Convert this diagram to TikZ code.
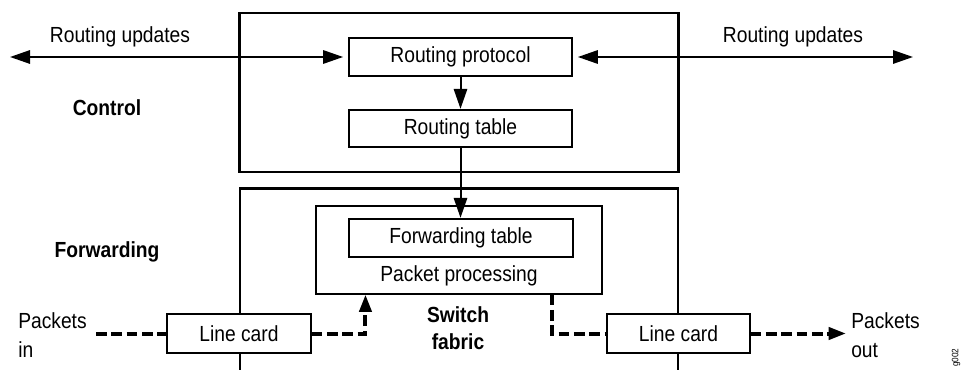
\documentclass[tikz,border=0pt]{standalone}
\usepackage{fontspec}
\setmainfont[FakeStretch=0.88]{Liberation Sans}
\usetikzlibrary{arrows.meta}
\newcommand{\lblfont}{\fontsize{16.4}{19}\selectfont}
\tikzset{
  lbl/.style={font=\lblfont, inner sep=0pt},
  blbl/.style={font=\lblfont\bfseries, inner sep=0pt},
  thinbox/.style={draw, line width=0.8pt, fill=white, inner sep=0pt, font=\lblfont},
  thickbox/.style={draw, line width=1.7pt, fill=white, inner sep=0pt, font=\lblfont},
  plane/.style={draw, line width=1.9pt, inner sep=0pt},
  arr/.style={line width=1.5pt, -{Triangle[length=15pt,width=10pt]}},
  darr/.style={line width=1.5pt, {Triangle[length=15pt,width=10pt]}-{Triangle[length=15pt,width=10pt]}},
  pkt/.style={line width=3pt, dash pattern=on 8pt off 3.5pt},
  pktarr/.style={pkt, -{Triangle[length=13pt,width=9pt]}}
}
\begin{document}
\begin{tikzpicture}[x=0.75pt,y=-0.75pt]
\clip (0,0) rectangle (963,370);
\useasboundingbox (0,0) rectangle (963,370);
% planes
\node[plane, minimum width=329pt, minimum height=119.25pt] (ctrl) at (459,92.5) {};
\node[plane, minimum width=328.5pt, minimum height=152pt] (fwd) at (459,290) {};
% control boxes
\node[thinbox, minimum width=167.25pt, minimum height=28.5pt] (proto) at (460.5,57) {Routing protocol};
\node[thickbox, minimum width=167.25pt, minimum height=27.75pt] (rtable) at (460.5,128.5) {Routing table};
% forwarding
\node[thinbox, minimum width=214.5pt, minimum height=66pt] (pp) at (459,250) {};
\node[lbl] (pptext) at (459,276) {Packet processing};
\node[thickbox, minimum width=168pt, minimum height=28.5pt] (ftable) at (461,238) {Forwarding table};
\node[thinbox, minimum width=108pt, minimum height=29.25pt] (lcl) at (239,333.5) {Line card};
\node[thinbox, minimum width=107.25pt, minimum height=29.25pt] (lcr) at (678.5,333.5) {Line card};
% labels
\node[lbl] (ru1) at (120,37) {Routing updates};
\node[lbl] (ru2) at (793,37) {Routing updates};
\node[blbl] (control) at (107,108) {Control};
\node[blbl] (forwarding) at (107,252) {Forwarding};
\node[blbl, align=center, font=\fontsize{16.4}{20.5}\selectfont\bfseries] (sf) at (458,328) {Switch\\fabric};
\node[lbl, anchor=base west] (pin1) at (18,328) {Packets};
\node[lbl, anchor=base west] (pin2) at (18,357) {in};
\node[lbl, anchor=base west] (pout1) at (851,328) {Packets};
\node[lbl, anchor=base west] (pout2) at (851,357) {out};
\node[font=\fontsize{7}{8}\selectfont, rotate=90, anchor=west, inner sep=0pt] (gid) at (956,367) {g002};
% coordinates
\coordinate (ruL) at (10,57);
\coordinate (ruR) at (913,57);
\coordinate (pinc) at (96,333.5);
\coordinate (poutc) at (846,333.5);
% connectors
\draw[darr, shorten >=4pt] (ruL) -- (proto.west);
\draw[darr, shorten <=4pt] (proto.east) -- (ruR);
\draw[arr] (proto.south) -- (rtable.north);
\draw[arr] (rtable.south) -- (rtable.south |- ftable.north);
\draw[pkt] (pinc) -- (lcl.west);
\draw[pktarr] (lcl.east) -| ([xshift=37.5pt]pp.south west);
\draw[pkt] ([xshift=-38.25pt]pp.south east) |- (lcr.west);
\draw[pktarr] (lcr.east) -- (poutc);
\end{tikzpicture}
\end{document}
